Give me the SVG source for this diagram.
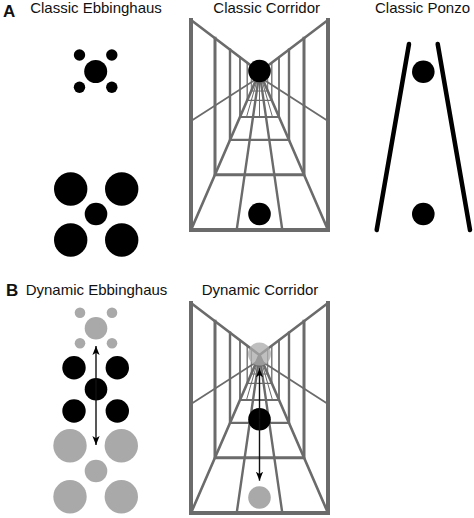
<svg xmlns="http://www.w3.org/2000/svg" xmlns:xlink="http://www.w3.org/1999/xlink" width="474" height="518" viewBox="0 0 474 518">
<style>
  text { font-family: "Liberation Sans", Arial, sans-serif; fill: #111; }
  .title { font-size: 15px; text-anchor: middle; }
  .panel { font-size: 17px; font-weight: bold; }
  .cl { stroke: #6b6b6b; fill: none; stroke-linecap: square; }
  .blk { fill: #000; }
  .gry { fill: #a9a9a9; }
  .arr { stroke: #111; stroke-width: 1.4; fill: none; }
</style>
<defs>
  <marker id="ah" viewBox="0 0 10 8" refX="10" refY="4" markerWidth="9" markerHeight="7.5" markerUnits="userSpaceOnUse" orient="auto-start-reverse">
    <path d="M0,0 L10,4 L0,8 L2.5,4 z" fill="#000"/>
  </marker>
  <g id="corridor">
    <!-- top edges and floor-wall edges -->
    <path class="cl" stroke-width="2.6" d="M191,20 L259.5,72 M328,20 L259.5,72 M191,230 L259.5,72 M328,230 L259.5,72"/>
    <!-- mid wall lines -->
    <path class="cl" stroke-width="1.8" d="M191,121 L259.5,77 M328,121 L259.5,77"/>
    <!-- floor converging lines -->
    <path class="cl" stroke-width="2.4" d="M236.7,230 L259.5,72 M282.3,230 L259.5,72"/>
    <path class="cl" stroke-width="1" d="M246.5,117 L259.5,72 M259.5,117 L259.5,72 M272.5,117 L259.5,72"/>
    <!-- posts -->
    <path class="cl" stroke-width="3" d="M215,38.2 V174.7 M304,38.2 V174.7 M215,174.7 H304"/>
    <path class="cl" stroke-width="2.4" d="M230,49.6 V139.9 M289,49.6 V139.9 M230,139.9 H289"/>
    <path class="cl" stroke-width="1.8" d="M240,57.2 V117 M279,57.2 V117 M240,117 H279"/>
    <path class="cl" stroke-width="1.3" d="M247.2,62.6 V100.4 M271.8,62.6 V100.4 M247.2,100.4 H271.8"/>
    <path class="cl" stroke-width="1" d="M251.3,65.8 V91 M267.7,65.8 V91 M251.3,91 H267.7"/>
    <!-- front frame -->
    <path class="cl" stroke-width="4" d="M191,20 V230 H328 V20"/>
  </g>
</defs>

<g id="label-A"><text class="panel" x="3" y="16.5">A</text></g>
<g id="label-B"><text class="panel" x="6" y="295.5">B</text></g>

<g id="classic-ebbinghaus">
  <text class="title" x="96" y="12.5">Classic Ebbinghaus</text>
  <circle class="blk" cx="95.7" cy="71.5" r="11.5"/>
  <circle class="blk" cx="79.5" cy="55" r="5.7"/>
  <circle class="blk" cx="111.8" cy="55" r="5.7"/>
  <circle class="blk" cx="79.5" cy="87.3" r="5.7"/>
  <circle class="blk" cx="111.8" cy="87.3" r="5.7"/>
  <circle class="blk" cx="96" cy="214" r="11.3"/>
  <circle class="blk" cx="70.7" cy="189" r="16.7"/>
  <circle class="blk" cx="121.7" cy="189" r="16.7"/>
  <circle class="blk" cx="70.7" cy="240" r="16.7"/>
  <circle class="blk" cx="121.7" cy="240" r="16.7"/>
</g>

<g id="classic-corridor">
  <text class="title" x="266.7" y="12.5">Classic Corridor</text>
  <use xlink:href="#corridor"/>
  <circle class="blk" cx="259.5" cy="71" r="11.3"/>
  <circle class="blk" cx="259.5" cy="214" r="11.3"/>
</g>

<g id="classic-ponzo">
  <text class="title" x="422.5" y="12.5">Classic Ponzo</text>
  <path d="M409,44 L376.7,230 M437.7,44 L470,230" stroke="#000" stroke-width="4.5" stroke-linecap="round" fill="none"/>
  <circle class="blk" cx="423.3" cy="71.7" r="11.3"/>
  <circle class="blk" cx="423.3" cy="214" r="11.3"/>
</g>

<g id="dynamic-ebbinghaus">
  <text class="title" x="96.5" y="294.5">Dynamic Ebbinghaus</text>
  <circle class="gry" cx="96" cy="328.3" r="11.3"/>
  <circle class="gry" cx="80" cy="312.7" r="5.3"/>
  <circle class="gry" cx="112" cy="312.7" r="5.3"/>
  <circle class="gry" cx="80" cy="343.3" r="5.3"/>
  <circle class="gry" cx="112" cy="343.3" r="5.3"/>
  <circle class="blk" cx="96" cy="389.3" r="11.3"/>
  <circle class="blk" cx="74" cy="367.7" r="11.7"/>
  <circle class="blk" cx="117.3" cy="367.7" r="11.7"/>
  <circle class="blk" cx="74" cy="411" r="11.7"/>
  <circle class="blk" cx="117.3" cy="411" r="11.7"/>
  <circle class="gry" cx="96" cy="471" r="11.3"/>
  <circle class="gry" cx="70" cy="445.7" r="16.7"/>
  <circle class="gry" cx="121.3" cy="445.7" r="16.7"/>
  <circle class="gry" cx="70" cy="496.7" r="16.7"/>
  <circle class="gry" cx="121.3" cy="496.7" r="16.7"/>
</g>

<g id="dynamic-corridor">
  <text class="title" x="260" y="294.5">Dynamic Corridor</text>
  <use xlink:href="#corridor" transform="translate(0,283)"/>
  <circle class="gry" cx="259.5" cy="354" r="11.5" fill-opacity="0.75"/>
  <circle class="blk" cx="259.5" cy="419.3" r="11.3"/>
  <circle class="gry" cx="259.5" cy="497.5" r="11.3"/>
</g>

<g id="connectors">
  <line class="arr" x1="96" y1="346" x2="96" y2="445" marker-start="url(#ah)" marker-end="url(#ah)"/>
  <line class="arr" x1="259.5" y1="419.3" x2="259.5" y2="368.3" marker-end="url(#ah)"/>
  <line class="arr" x1="259.5" y1="419.3" x2="259.5" y2="480.7" marker-end="url(#ah)"/>
</g>
</svg>
